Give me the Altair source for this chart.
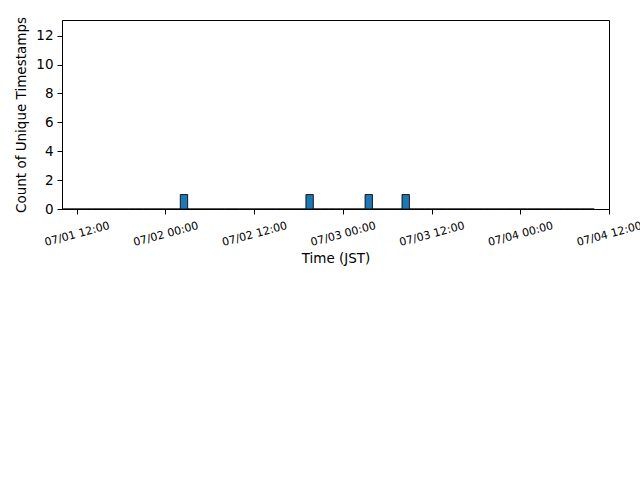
import altair as alt
import pandas as pd
import numpy as np

# Event timestamps (JST) that make up the histogram
event_times = [
    "2024-07-02T02:30:00",
    "2024-07-02T19:30:00",
    "2024-07-03T03:30:00",
    "2024-07-03T08:30:00",
]
bin_first = "2024-07-01T10:00:00"
bin_last = "2024-07-04T10:00:00"
tick_labels = [
    "2024-07-01T12:00:00", "2024-07-02T00:00:00", "2024-07-02T12:00:00",
    "2024-07-03T00:00:00", "2024-07-03T12:00:00", "2024-07-04T00:00:00",
    "2024-07-04T12:00:00",
]

edges = pd.date_range(bin_first, bin_last, freq="1h")
ev = pd.to_datetime(event_times)
counts, _ = np.histogram(ev.asi8, bins=edges.asi8)

df = pd.DataFrame({
    "start": [e.strftime("%Y-%m-%dT%H:%M:%SZ") for e in edges[:-1]],
    "end": [e.strftime("%Y-%m-%dT%H:%M:%SZ") for e in edges[1:]],
    "count": counts,
})


def dt(s):
    t = pd.Timestamp(s)
    return alt.DateTime(year=t.year, month=t.month, date=t.day,
                        hours=t.hour, minutes=t.minute, utc=True)


xscale = alt.Scale(type="utc", domain=[dt("2024-07-01T10:00:00"), dt("2024-07-04T12:00:00")], nice=False)

chart = alt.Chart(df).mark_rect(
    color="#1f77b4", stroke="black", strokeWidth=1, strokeOpacity=0.85
).encode(
    x=alt.X("start:T", scale=xscale,
            axis=alt.Axis(title="Time (JST)", values=[dt(t) for t in tick_labels],
                          format="%m/%d %H:%M", labelAngle=-15, labelFontSize=11,
                          labelAlign="center", labelBaseline="middle", labelPadding=20,
                          titleFontSize=13.5, titleFontWeight="normal", titlePadding=4,
                          grid=False, tickColor="black", domainColor="black",
                          labelColor="black", titleColor="black", tickSize=5,
                          labelFont="DejaVu Sans", titleFont="DejaVu Sans",
                          labelFlush=False, labelOverlap=False)),
    x2="end:T",
    y=alt.Y("count:Q", scale=alt.Scale(domain=[0, 13.08], nice=False),
            axis=alt.Axis(title="Count of Unique Timestamps", values=[0, 2, 4, 6, 8, 10, 12],
                          labelFontSize=13.5, titleFontSize=13.5, titleFontWeight="normal",
                          grid=False, tickColor="black", domainColor="black",
                          labelColor="black", titleColor="black", tickSize=5,
                          labelFont="DejaVu Sans", titleFont="DejaVu Sans",
                          titlePadding=7, labelPadding=4, labelFlush=False)),
    y2=alt.datum(0),
).properties(
    width=547, height=189,
    autosize=alt.AutoSizeParams(type="none"),
    padding={"left": 62, "top": 20, "right": 31, "bottom": 271},
).configure_view(stroke="black", strokeWidth=1)

chart.save("out.html", embed_options={"renderer": "svg", "actions": False})
